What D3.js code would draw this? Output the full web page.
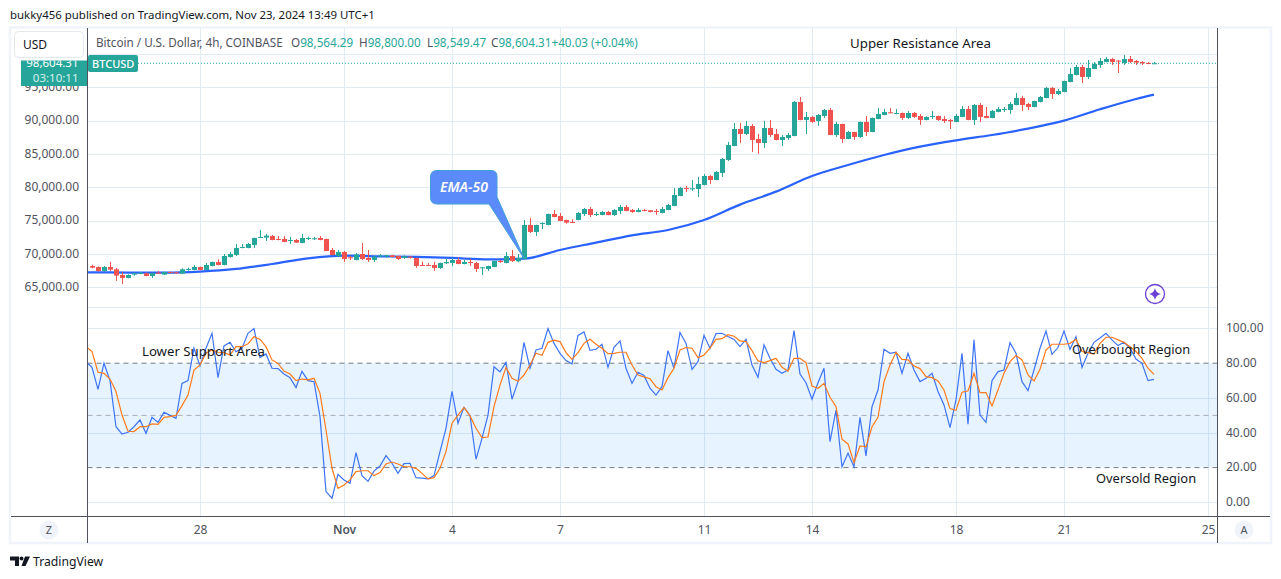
<!DOCTYPE html>
<html>
<head>
<meta charset="utf-8">
<script src="https://cdn.jsdelivr.net/npm/d3@7"></script>
<style>
  html, body { margin: 0; background: #fff; }
  svg { display: block; font-family: "Noto Sans", sans-serif; }
  .axis path, .axis line { display: none; }
  .axis text { fill: #50535e; font-size: 12px; font-family: "Noto Sans", sans-serif; }
  .note { fill: #131722; }
</style>
</head>
<body>
<svg id="chart" width="1281" height="579"></svg>
<script>
const opens = [
  68200,68050,67450,68050,67700,66850,66400,66900,67100,67100,
  66700,67200,66900,67300,67250,67050,67600,67600,68050,67600,
  68200,68800,68350,69550,69850,70900,70900,71350,72450,72450,
  72700,72250,72250,72000,72100,71650,72250,72250,72400,72250,
  70600,69700,70300,69500,69100,70000,69400,69100,69650,69650,
  69800,69700,69400,69600,69400,68350,68350,68350,67900,68600,
  68650,69100,68500,68800,68650,67900,67750,68050,68950,68650,
  69700,68900,69250,74350,73300,74550,74350,76000,75700,75100,
  74800,75100,76000,76750,75900,75850,76300,75850,76450,77050,
  76600,76300,76600,76550,76450,76150,76600,77200,78700,79900,
  79750,79750,80350,81700,81100,82150,84100,86200,88750,88000,
  89200,87250,86650,88900,88000,87100,87400,87700,92800,90100,
  90550,89950,90700,91600,87850,89500,87250,88300,87550,89800,
  88300,90250,90850,91250,91000,91150,90400,91150,90700,90100,
  90550,90700,90250,90100,89800,90550,91750,90100,92350,90700,
  90400,91300,91600,91600,92350,93400,92500,92050,92800,93400,
  94900,94000,94300,95800,96850,98050,96550,97750,98350,98800,
  99250,99000,98650,99250,98950,98800,98650,98564.29]
const highs = [
  68400,68100,68200,68800,67900,67350,66950,67200,67300,67200,
  67200,67450,67350,67350,67300,67850,67950,68350,68100,68650,
  68850,69200,70000,70300,71500,71500,71650,72450,73600,73000,
  72850,72700,72700,72550,72250,73000,72600,72550,72700,72300,
  70900,70600,70450,69700,70150,71650,70600,69700,70000,69850,
  69850,69750,69800,69650,69450,68850,68650,68800,68700,69350,
  69400,69450,69100,69250,68800,68050,68250,69000,69100,70300,
  70600,70000,75100,75400,74400,74750,76050,76600,76150,75150,
  75200,76300,76900,77050,76300,76450,76450,76750,77350,77350,
  76750,76900,76750,76600,76750,77050,77500,79900,80050,80200,
  81100,81550,82000,81850,82450,84400,86800,89650,89650,89950,
  89500,88000,89950,90100,88750,87850,88150,92950,93550,91300,
  90700,91000,91750,91900,89800,89550,88450,88350,89850,90700,
  90450,91900,91750,91900,91750,91200,91450,91300,91000,90650,
  91450,90750,90700,90250,91000,92200,92200,92500,92650,92050,
  91600,92050,92050,92800,94150,93700,92650,93000,93700,95050,
  95050,94750,96000,97900,98350,98350,99100,98800,99400,99550,
  99400,99100,99850,99700,99100,98950,98800,98800]
const lows = [
  67850,67350,67350,67450,65950,65500,66350,66750,67050,66650,
  66400,67000,66850,67100,67050,67000,67450,67550,67550,67550,
  68150,68300,68300,69450,69700,70850,70850,70900,72400,71950,
  72050,72050,71750,71500,71650,71600,72100,72100,72050,70400,
  69800,69550,68800,69100,69050,69100,68800,68800,69600,69450,
  69500,69100,69250,69300,67900,68200,68200,67450,67750,68500,
  68200,68450,68450,68200,67300,66850,67450,68000,68650,68600,
  68800,68750,69200,73150,72700,73750,74300,75500,74900,74550,
  74650,75050,75700,75550,75700,75800,75800,75700,76000,76400,
  76150,76250,76400,76250,75850,76100,76550,77150,78650,79300,
  79450,78550,80300,80500,81050,81550,83950,86150,86650,87850,
  85300,85000,85900,87550,87050,86200,87100,87650,90050,88000,
  89650,89200,90400,87800,87550,86650,87200,87100,87400,87700,
  88250,90200,90800,91100,90950,90100,90250,90400,89350,90050,
  90250,89950,89650,88750,89750,90500,90050,89350,89800,90350,
  90350,91250,91300,91000,92300,91450,91600,92000,92750,93350,
  93250,93850,94250,95750,96800,95650,96250,97700,97900,98750,
  98350,97150,98350,98650,98350,98350,98450,98549.47]
const closes = [
  67950,67450,68050,67650,66750,66400,66850,67100,67200,66700,
  67100,67050,67300,67150,67100,67700,67750,68050,67600,68350,
  68800,68350,69700,70000,70900,71050,71500,72400,72550,72750,
  72100,72150,71800,72100,71700,72400,72400,72350,72100,70450,
  69850,70300,69250,69350,69950,69250,69100,69600,69750,69800,
  69550,69250,69650,69450,68200,68250,68250,67900,68650,68800,
  69100,68500,68800,68700,67750,68000,68200,68950,68800,69700,
  68950,69400,74350,73300,74350,74650,76000,75550,74950,74700,
  74700,76150,76750,75850,76000,76300,75850,76600,77050,76450,
  76300,76600,76450,76300,76350,76750,77350,78850,79900,79800,
  79850,80500,81700,81100,82300,84250,86350,88750,88000,89200,
  87100,86650,88900,87850,87100,87550,87850,92800,90100,90550,
  89800,90850,91600,87850,89500,87250,88300,87550,89800,88300,
  90400,91000,91300,91150,91150,90400,91150,90550,90100,90550,
  90700,90100,89950,89900,90700,91750,90100,92350,90550,90400,
  91450,91750,91750,92500,93400,92350,92050,92950,93550,94900,
  94000,94450,95950,97000,98050,96550,97900,98500,98950,99250,
  98800,98900,99250,98800,98700,98600,98550,98604.31]

// EMA-50 read once a day, plus the last bar
const emaBars = [0,6,12,18,24,30,36,42,48,54,60,66,72,78,84,90,96,102,108,114,120,126,132,138,144,150,156,162,168,174,177]
const emaValues = [67250,67200,67200,67350,67750,68500,69350,69750,69650,69550,69400,69200,69300,70600,71700,72800,73600,75100,77400,79350,81700,83350,84850,86100,87050,87850,88800,90000,91700,93250,93900]

// stochastic lines start one bar before the first candle
const stochK = [
  80.9,77.6,65,80,70,43.5,39.3,40.3,43.5,47.4,39.7,
  48.9,46,51.8,50,48.3,68.4,70,88.6,78.4,88.6,
  97.2,71.7,89.9,92,86.6,88.6,97.2,99.9,83.2,85.3,
  77.1,76.9,73.8,71.7,66,75.3,70,69.4,49.3,6.2,
  2.4,16.1,12.9,11,28.6,15.4,12.1,18,20.9,26.9,
  22.5,16.7,22.3,22.5,14.2,14,13.5,15.4,29.2,42.6,
  63.8,45.5,54.6,50,24.8,36.8,50.2,78,75,80.5,
  59.3,69.4,92,77.1,87.6,88.6,99.9,91.4,85.7,81.5,
  79.6,96,98,87.4,88,90.9,77.6,89.1,92.8,77.1,
  68.4,74.8,72.9,65.6,61.7,66.5,87.2,77.1,97.6,91.4,
  76.5,80.9,96,88.6,97,97.2,95.3,93.7,89.5,93.7,
  79,71.9,90.5,82.8,76.5,74.2,76.1,98.7,73.8,68.8,
  59.3,68.8,77.1,34.9,53.1,20.5,28.2,20.5,48.9,26.7,
  55,64.6,88,85.7,86.3,74.2,85.7,76.1,69.4,71.3,
  74.2,63.7,56,43,58.9,85.7,44.9,93.4,50.2,46,
  70,75.2,76.1,91.8,85.7,69.4,64.2,76.1,88.6,98.5,
  85.1,89,98.5,88,95.3,77.6,85.7,92,94.5,97.2,
  93.4,90.1,92,88.6,82.4,79.9,70,70.7]
const stochD = [
  89.5,86.7,74.8,74.2,70.9,63.7,50.2,40.9,40.7,43.5,43.5,
  45.1,44.9,48.9,49.3,50,55.6,61.7,76.1,79,85.7,
  87.6,86.3,86.1,84.7,89.5,89.5,91.1,95.3,93.7,89.5,
  81.9,79.9,75.5,73.8,70,70.9,70.4,71.3,62.7,41.6,
  19.6,8.1,10,12.9,17.7,18.2,18.2,15.4,17.1,22.1,
  23.2,22.1,20.5,20.5,19.6,16.7,13.5,14.2,19.6,29.2,
  45.5,50.2,54.6,49.7,42.6,37.2,37.6,55,67.5,77.6,
  71.3,69.6,73.2,79,85.7,84.5,92,93.2,92.4,86.1,
  82.2,86.1,91.4,93.7,90.9,88.6,85.5,85.7,86.3,86.3,
  79,73.2,72.1,71.1,66.5,64.6,71.7,77.1,87.6,89,
  88.6,83.2,84.7,88.6,93.7,94.1,96.4,95.5,92.8,92.4,
  87.2,81.3,80.3,81.5,82.8,77.6,75.5,82.8,82.8,80.3,
  66.9,65.6,68.4,60.4,55,36.3,33.6,22.8,32.4,31.9,
  43.5,48.9,69.4,79,86.3,82.2,81.9,78.4,76.9,72.3,
  71.7,69.8,64.6,53.9,52.9,63.3,64,74.2,63.1,63.1,
  55.4,64.6,74.2,80.9,84.4,81.9,73.2,69.8,76.5,87.6,
  90.9,90.9,90.9,91.4,93.7,86.7,86.1,85.3,91.4,94.9,
  94.9,93.4,92,89.5,86.7,82.8,77.1,73.6]

const priceTicks = [65000,70000,75000,80000,85000,90000,95000,100000]
const stochTicks = [0,20,40,60,80,100]
const stochGrid = [0,40,60,100]
const dayBars = [18,42,60,78,102,120,144,162,186]
const dayLabels = ["28","Nov","4","7","11","14","18","21","25"]

const green = "#26a69a", red = "#ef5350", grid = "#e1ecf2", frame = "#f0f3fa", dark = "#50535e"
const svg = d3.select("#chart")

const xBar = d3.scaleLinear().domain([0,177]).range([92,1154])
const yPrice = d3.scaleLinear().domain([65000,95000]).range([287.3,87.3])
const yStoch = d3.scaleLinear().domain([0,100]).range([502.4,328.4])
const paneLeft = 87.5, paneRight = 1217.5, paneBottom = 516.5, paneTop = 28

svg.append("clipPath").attr("id","pane").append("rect")
  .attr("x",paneLeft).attr("y",paneTop).attr("width",paneRight-paneLeft).attr("height",paneBottom-paneTop)

// outer frame
svg.append("rect").attr("x",10).attr("y",27.5).attr("width",1261).attr("height",515.5)
  .attr("fill","none").attr("stroke",frame).attr("stroke-width",2.5)

// gridlines
const gridLayer = svg.append("g").attr("stroke",grid).attr("stroke-width",1)
gridLayer.selectAll(".gx").data(dayBars).join("line").attr("class","gx")
  .attr("x1",d=>Math.round(xBar(d))+.5).attr("x2",d=>Math.round(xBar(d))+.5)
  .attr("y1",paneTop).attr("y2",paneBottom)
gridLayer.selectAll(".gp").data(priceTicks).join("line").attr("class","gp")
  .attr("x1",paneLeft).attr("x2",paneRight)
  .attr("y1",d=>Math.round(yPrice(d))+.5).attr("y2",d=>Math.round(yPrice(d))+.5)
gridLayer.selectAll(".gs").data(stochGrid).join("line").attr("class","gs")
  .attr("x1",paneLeft).attr("x2",paneRight)
  .attr("y1",d=>Math.round(yStoch(d))+.5).attr("y2",d=>Math.round(yStoch(d))+.5)
gridLayer.append("line").attr("x1",paneLeft).attr("x2",paneRight).attr("y1",307.5).attr("y2",307.5)

// stochastic band
svg.append("rect").attr("x",paneLeft).attr("width",paneRight-paneLeft)
  .attr("y",yStoch(80)).attr("height",yStoch(20)-yStoch(80))
  .attr("fill","#2196f3").attr("fill-opacity",.11)
svg.selectAll(".lvl").data([80,50,20]).join("line").attr("class","lvl")
  .attr("x1",paneLeft).attr("x2",paneRight)
  .attr("y1",d=>yStoch(d)).attr("y2",d=>yStoch(d))
  .attr("stroke",d=>d==50?"#a9adb8":"#787b86").attr("stroke-width",1)
  .attr("stroke-dasharray","5 4")

// last price dotted line
svg.append("line").attr("x1",138).attr("x2",paneRight)
  .attr("y1",yPrice(98604.31)).attr("y2",yPrice(98604.31))
  .attr("stroke",green).attr("stroke-dasharray","1 2")

const plot = svg.append("g").attr("clip-path","url(#pane)")

// ema
const emaLine = d3.line().x(d=>xBar(d[0])).y(d=>yPrice(d[1])).curve(d3.curveMonotoneX)
plot.append("path").datum(d3.zip(emaBars,emaValues))
  .attr("d",d=>emaLine([[-1,d[0][1]]].concat(d)))
  .attr("fill","none").attr("stroke","#2962ff").attr("stroke-width",2.2)

// candles
const candles = plot.selectAll(".candle").data(d3.range(opens.length)).join("g").attr("class","candle")
candles.append("line")
  .attr("x1",i=>xBar(i)+.5).attr("x2",i=>xBar(i)+.5)
  .attr("y1",i=>yPrice(highs[i])).attr("y2",i=>yPrice(lows[i]))
  .attr("stroke",i=>closes[i]>=opens[i]?green:red)
candles.append("rect")
  .attr("x",i=>xBar(i)-2).attr("width",5)
  .attr("y",i=>yPrice(Math.max(opens[i],closes[i])))
  .attr("height",i=>Math.max(1,Math.abs(yPrice(opens[i])-yPrice(closes[i]))))
  .attr("fill",i=>closes[i]>=opens[i]?green:red)

// stochastic lines
const stochLine = d3.line().x((d,i)=>xBar(i-1)).y(d=>yStoch(d))
plot.append("path").datum(stochK).attr("d",stochLine)
  .attr("fill","none").attr("stroke","#3d74f5").attr("stroke-width",1.2)
plot.append("path").datum(stochD).attr("d",stochLine)
  .attr("fill","none").attr("stroke","#ff7a1a").attr("stroke-width",1.2)

// callout
const tip = [xBar(72),yPrice(69350)]
svg.append("path")
  .attr("d","M437,170.5H491Q497,170.5 497,176.5V197L"+tip[0]+","+tip[1]+"L489,204H437Q430.5,204 430.5,197.5V177Q430.5,170.5 437,170.5Z")
  .attr("fill","#5b8bfb").attr("stroke","#3f9fd8").attr("stroke-width",1)
svg.append("text").attr("x",464).attr("y",192).attr("text-anchor","middle")
  .attr("fill","#fff").attr("font-style","italic").attr("font-weight",600).attr("font-size",14)
  .text("EMA-50")

// axes
svg.append("g").attr("class","axis").attr("transform","translate(79,-0.7)")
  .call(d3.axisLeft(yPrice).tickValues(priceTicks.slice(0,7)).tickSize(0).tickPadding(0).tickFormat(d3.format(",.2f")))
svg.append("g").attr("class","axis").attr("transform","translate(1226,-0.5)")
  .call(d3.axisRight(yStoch).tickValues(stochTicks).tickSize(0).tickPadding(0).tickFormat(d3.format(".2f")))
svg.append("g").attr("class","axis").attr("transform","translate(0,525)")
  .call(d3.axisBottom(xBar).tickValues(dayBars).tickSize(0).tickPadding(0).tickFormat((d,i)=>dayLabels[i]))
  .selectAll("text").attr("font-weight",(d,i)=>dayLabels[i]=="Nov"?600:400)

// pane borders
const border = svg.append("g").attr("stroke",dark).attr("stroke-width",1)
border.append("line").attr("x1",paneLeft).attr("x2",paneLeft).attr("y1",paneTop).attr("y2",543)
border.append("line").attr("x1",paneRight).attr("x2",paneRight).attr("y1",paneTop).attr("y2",543)
border.append("line").attr("x1",11).attr("x2",1270).attr("y1",paneBottom).attr("y2",paneBottom)

// price tag and symbol tag, top of the price is cut like in the screenshot
svg.append("clipPath").attr("id","tagclip").append("rect").attr("x",21).attr("y",60.5).attr("width",66).attr("height",25.5)
svg.append("rect").attr("x",21).attr("y",60.5).attr("width",66).attr("height",25.5).attr("fill",green)
svg.append("rect").attr("x",88).attr("y",55).attr("width",50).attr("height",17).attr("rx",2).attr("fill",green)
const tag = svg.append("g").attr("clip-path","url(#tagclip)").attr("text-anchor","end").attr("font-size",11.5)
tag.append("text").attr("x",78.5).attr("y",66.5).attr("fill","#fff").text("98,604.31")
tag.append("text").attr("x",78.5).attr("y",82).attr("fill","#d8f0ec").text("03:10:11")
svg.append("text").attr("x",92).attr("y",68).attr("fill","#fff").attr("font-size",11).attr("font-weight",500).text("BTCUSD")

// USD button
svg.append("rect").attr("x",14.5).attr("y",31.5).attr("width",69).attr("height",26).attr("rx",4)
  .attr("fill","#fff").attr("stroke","#e6e8ef")
svg.append("text").attr("x",23).attr("y",49).attr("fill","#131722").attr("font-size",12).text("USD")

// legend
const legend = svg.append("text").attr("y",46.5).attr("font-size",11.7).attr("fill",dark)
legend.append("tspan").attr("x",96).text("Bitcoin / U.S. Dollar, 4h, COINBASE")
const legendItems = [["O","98,564.29",291],["H","98,800.00",359],["L","98,549.47",427],["C","98,604.31",491],["","+40.03 (+0.04%)",563]]
legendItems.forEach(d=>{
  legend.append("tspan").attr("x",d[2]).text(d[0])
  legend.append("tspan").attr("fill",green).text(d[1])
})

// annotations
const notes = [["Upper Resistance Area",850,48,13.3],["Lower Support Area",142,356,13.2],["Overbought Region",1072,354,12.8],["Oversold Region",1096,483,12.9]]
svg.selectAll(".note").data(notes).join("text").attr("class","note")
  .attr("x",d=>d[1]).attr("y",d=>d[2]).attr("font-size",d=>d[3]).text(d=>d[0])

// star badge
svg.append("circle").attr("cx",1155).attr("cy",294).attr("r",9.5).attr("fill","#fff").attr("stroke","#6a3fd4").attr("stroke-width",1.3)
svg.append("path").attr("d","M1155,288Q1155.8,293.2 1161,294Q1155.8,294.8 1155,300Q1154.2,294.8 1149,294Q1154.2,293.2 1155,288Z").attr("fill","#6a3fd4")

// round axis buttons
const buttons = [[49,530,"Z"],[1244,530,"A"]]
svg.selectAll(".btn").data(buttons).join("circle").attr("class","btn")
  .attr("cx",d=>d[0]).attr("cy",d=>d[1]).attr("r",9.5).attr("fill",frame)
svg.selectAll(".btnt").data(buttons).join("text").attr("class","btnt")
  .attr("x",d=>d[0]).attr("y",d=>d[1]+4).attr("text-anchor","middle")
  .attr("font-size",11).attr("fill",dark).text(d=>d[2])

// header and footer
svg.append("text").attr("x",10).attr("y",19).attr("font-size",11.45).attr("fill","#131722")
  .text("bukky456 published on TradingView.com, Nov 23, 2024 13:49 UTC+1")
svg.append("path").attr("d","M10,556.5H19V566H15V560.5H10ZM25,556.5H30L25.5,566H21.5Z").attr("fill","#131722")
svg.append("circle").attr("cx",21.5).attr("cy",558.5).attr("r",2).attr("fill","#131722")
svg.append("text").attr("x",33).attr("y",566).attr("font-size",12.2).attr("fill","#131722").text("TradingView")
</script>
</body>
</html>
